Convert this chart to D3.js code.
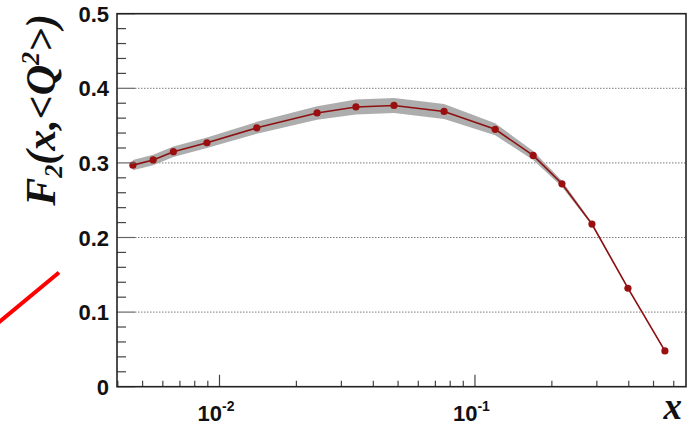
<!DOCTYPE html>
<html>
<head>
<meta charset="utf-8">
<script src="https://cdn.jsdelivr.net/npm/d3@7"></script>
<style>
  body { margin: 0; background: #fff; }
  .tick-label { font-family: "Liberation Sans", Arial, sans-serif; font-weight: bold; font-size: 22px; fill: #111; }
  .title { font-family: "Liberation Serif", "Times New Roman", serif; font-weight: bold; font-style: italic; fill: #111; }
</style>
</head>
<body>
<div id="chart"></div>
<script>
// F2 values
let xValues = [0.00458, 0.0055, 0.0066, 0.00893, 0.014, 0.0241, 0.0342, 0.0482, 0.0757, 0.120, 0.169, 0.219, 0.287, 0.397, 0.554]
let f2Values = [0.297, 0.304, 0.315, 0.327, 0.347, 0.367, 0.375, 0.377, 0.369, 0.345, 0.310, 0.272, 0.218, 0.132, 0.048]
let f2Errors = [0.007, 0.007, 0.007, 0.007, 0.008, 0.009, 0.010, 0.010, 0.010, 0.008, 0.006, 0.004, 0.002, 0.001, 0.001]

let yMajor = [0, 0.1, 0.2, 0.3, 0.4, 0.5]
let yGrid = [0.1, 0.2, 0.3, 0.4]
let xMajor = [0.01, 0.1]
let xMajorLabels = ['-2', '-1']

let width = 691
let height = 429
let plotLeft = 117, plotRight = 686, plotTop = 13.7, plotBottom = 386.7

let data = xValues.map((x, i) => ({ x: x, y: f2Values[i], e: f2Errors[i] }))

let x = d3.scaleLog()
  .domain([0.00397, 0.670])
  .range([plotLeft, plotRight])

let y = d3.scaleLinear()
  .domain([0, 0.5])
  .range([plotBottom, plotTop])

let svg = d3.select('#chart')
  .append('svg')
  .attr('width', width)
  .attr('height', height)

// dotted grid
svg.append('g')
  .selectAll('line')
  .data(yGrid)
  .join('line')
  .attr('x1', plotLeft + 18)
  .attr('x2', plotRight)
  .attr('y1', d => y(d))
  .attr('y2', d => y(d))
  .attr('stroke', '#7a7a7a')
  .attr('stroke-width', 1)
  .attr('stroke-dasharray', '1.5,1.5')

// error band
let band = d3.area()
  .x(d => x(d.x))
  .y0(d => y(d.y - d.e))
  .y1(d => y(d.y + d.e))

svg.append('path')
  .datum(data)
  .attr('d', band)
  .attr('fill', '#adadad')

let line = d3.line()
  .x(d => x(d.x))
  .y(d => y(d.y))

svg.append('path')
  .datum(data)
  .attr('d', line)
  .attr('fill', 'none')
  .attr('stroke', '#8e0f0f')
  .attr('stroke-width', 1.6)

svg.append('g')
  .selectAll('circle')
  .data(data)
  .join('circle')
  .attr('cx', d => x(d.x))
  .attr('cy', d => y(d.y))
  .attr('r', 3.6)
  .attr('fill', '#9a1010')

// y ticks (pointing inside)
let yMinor = d3.range(0.02, 0.5, 0.02).filter(v => Math.abs(v * 10 - Math.round(v * 10)) > 1e-6)
svg.append('g')
  .selectAll('line')
  .data(yMinor)
  .join('line')
  .attr('x1', plotLeft).attr('x2', plotLeft + 9)
  .attr('y1', d => y(d)).attr('y2', d => y(d))
  .attr('stroke', '#444').attr('stroke-width', 1.2)

svg.append('g')
  .selectAll('line')
  .data(yMajor)
  .join('line')
  .attr('x1', plotLeft).attr('x2', plotLeft + 18)
  .attr('y1', d => y(d)).attr('y2', d => y(d))
  .attr('stroke', '#666').attr('stroke-width', 1.2)

svg.append('g')
  .selectAll('text')
  .data(yMajor)
  .join('text')
  .attr('class', 'tick-label')
  .attr('x', 109)
  .attr('y', d => y(d) + 8)
  .attr('text-anchor', 'end')
  .text(d => d === 0 ? '0' : d.toFixed(1))

// x ticks
let xMinor = []
;[0.001, 0.01, 0.1].forEach(dec => {
  for (let k = 2; k <= 9; k++) {
    let v = dec * k
    if (v > x.domain()[0] && v < x.domain()[1]) xMinor.push(v)
  }
})

svg.append('g')
  .selectAll('line')
  .data(xMinor)
  .join('line')
  .attr('x1', d => x(d)).attr('x2', d => x(d))
  .attr('y1', plotBottom).attr('y2', plotBottom - 6)
  .attr('stroke', '#444').attr('stroke-width', 1.2)

svg.append('g')
  .selectAll('line')
  .data(xMajor)
  .join('line')
  .attr('x1', d => x(d)).attr('x2', d => x(d))
  .attr('y1', plotBottom).attr('y2', plotBottom - 12)
  .attr('stroke', '#444').attr('stroke-width', 1.2)

let xLab = svg.append('g')
  .selectAll('text')
  .data(xMajor)
  .join('text')
  .attr('class', 'tick-label')
  .attr('x', d => x(d) - 22)
  .attr('y', 421)

xLab.append('tspan').text('10')
xLab.append('tspan')
  .attr('dy', -10)
  .attr('font-size', 14)
  .text((d, i) => xMajorLabels[i])

// frame
svg.append('rect')
  .attr('x', plotLeft).attr('y', plotTop)
  .attr('width', plotRight - plotLeft).attr('height', plotBottom - plotTop)
  .attr('fill', 'none')
  .attr('stroke', '#222')
  .attr('stroke-width', 1.6)

// axis titles
svg.append('text')
  .attr('class', 'title')
  .attr('x', 682).attr('y', 419)
  .attr('text-anchor', 'end')
  .attr('font-size', 37)
  .text('x')

let yt = svg.append('text')
  .attr('class', 'title')
  .attr('transform', 'translate(55,14) rotate(-90)')
  .attr('text-anchor', 'end')
  .attr('font-size', 42)
yt.append('tspan').text('F')
yt.append('tspan').attr('font-size', 26).attr('dy', 7).text('2')
yt.append('tspan').attr('dy', -7).text('(x,<Q')
yt.append('tspan').attr('font-size', 26).attr('dy', -16).text('2')
yt.append('tspan').attr('dy', 16).text('>)')

// red stroke at the left margin
svg.append('line')
  .attr('x1', -2).attr('y1', 323)
  .attr('x2', 59).attr('y2', 272.5)
  .attr('stroke', '#ff0000')
  .attr('stroke-width', 4)
</script>
</body>
</html>
